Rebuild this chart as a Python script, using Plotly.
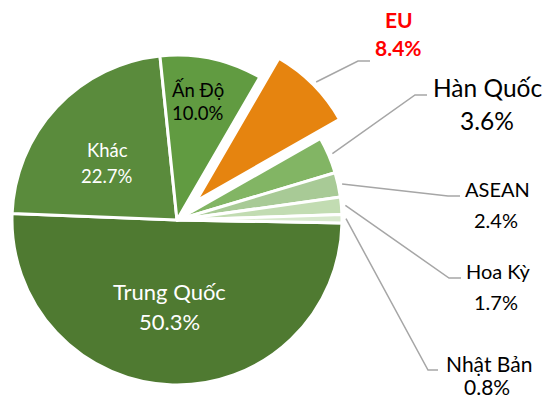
import math
import plotly.graph_objects as go

# Market shares (%)
labels = ["Trung Quốc", "Khác", "Ấn Độ", "EU", "Hàn Quốc", "ASEAN", "Hoa Kỳ", "Nhật Bản"]
shares = [50.3, 22.7, 10.0, 8.4, 3.6, 2.4, 1.7, 0.8]
colors = ["#4F7A31", "#5A8B3C", "#619B41", "#E6840F",
          "#82B564", "#A8CA96", "#C2DCB2", "#D8E9CD"]
highlight = "EU"

# Canvas / pie geometry (pixels)
W, H = 545, 401
CX, CY, R = 177, 220, 165
ROT = 91            # start angle of first slice, clockwise from 12 o'clock
EXPLODE_PX = 27     # offset of the highlighted slice
FONT = "Lato"
LINE_COL = "#A6A6A6"

# Label layout: inside labels (name centre, value centre, colour, size)
inside_pos = {
    "Trung Quốc": ((169, 291), (169, 321), "white", 22),
    "Khác": ((107, 150), (107, 176), "white", 18.5),
    "Ấn Độ": ((198, 89), (198, 113), "black", 18.5),
}
# Outside labels: (name centre, value centre, elbow, line end, size)
outside_pos = {
    "EU": ((399, 19), (398, 47), (358, 61), (370, 61), 21),
    "Hàn Quốc": ((487, 87), (487, 120), (415, 95), (427, 95), 24.5),
    "ASEAN": ((497, 189), (496, 220), (448, 196), (460, 196), 20),
    "Hoa Kỳ": ((498, 271), (496, 302), (449, 278), (461, 278), 20),
    "Nhật Bản": ((489, 363), (487, 386), (428, 370), (438, 370), 21),
}


def px(x, y):
    return x / W, 1 - y / H


def polar(cx, cy, rad, deg):
    a = math.radians(deg)
    return cx + rad * math.sin(a), cy - rad * math.cos(a)


def domain(cx, cy, r):
    return dict(x=[(cx - r) / W, (cx + r) / W],
                y=[1 - (cy + r) / H, 1 - (cy - r) / H])


total = sum(shares)
mids = {}
ang = ROT
for lab, v in zip(labels, shares):
    span = 360 * v / total
    mids[lab] = ang + span / 2
    ang += span

clear = "rgba(0,0,0,0)"
base_colors = [clear if l == highlight else c for l, c in zip(labels, colors)]
base_lines = [clear if l == highlight else "white" for l in labels]
hl_colors = [c if l == highlight else clear for l, c in zip(labels, colors)]
hl_lines = ["white" if l == highlight else clear for l in labels]

hx, hy = polar(CX, CY, EXPLODE_PX, mids[highlight])

fig = go.Figure()
fig.add_trace(go.Pie(
    values=shares, labels=labels, sort=False, direction="clockwise",
    rotation=ROT, textinfo="none", hoverinfo="skip", showlegend=False,
    marker=dict(colors=base_colors, line=dict(color=base_lines, width=3)),
    domain=domain(CX, CY, R),
))
fig.add_trace(go.Pie(
    values=shares, labels=labels, sort=False, direction="clockwise",
    rotation=ROT, textinfo="none", hoverinfo="skip", showlegend=False,
    marker=dict(colors=hl_colors, line=dict(color=hl_lines, width=3)),
    domain=domain(hx, hy, R),
))

annotations = []
shapes = []
value_of = dict(zip(labels, shares))


def add_text(pos, text, color, size, bold=False):
    x, y = px(*pos)
    annotations.append(dict(
        x=x, y=y, xref="paper", yref="paper", showarrow=False,
        xanchor="center", yanchor="middle",
        text=f"<b>{text}</b>" if bold else text,
        font=dict(family=FONT, size=size, color=color)))


for lab, (npos, vpos, col, size) in inside_pos.items():
    add_text(npos, lab, col, size)
    add_text(vpos, f"{value_of[lab]:.1f}%", col, size)

for lab, (npos, vpos, elbow, end, size) in outside_pos.items():
    is_hl = lab == highlight
    col = "#FF0000" if is_hl else "black"
    add_text(npos, lab, col, size, bold=is_hl)
    add_text(vpos, f"{value_of[lab]:.1f}%", col, size, bold=is_hl)
    ox, oy = (hx, hy) if is_hl else (CX, CY)
    sx, sy = polar(ox, oy, R + 4, mids[lab])
    p0, p1, p2 = px(sx, sy), px(*elbow), px(*end)
    shapes.append(dict(
        type="path", xref="paper", yref="paper",
        path=f"M {p0[0]} {p0[1]} L {p1[0]} {p1[1]} L {p2[0]} {p2[1]}",
        line=dict(color=LINE_COL, width=1.5)))

fig.update_layout(
    width=W, height=H,
    margin=dict(l=0, r=0, t=0, b=0),
    paper_bgcolor="white", plot_bgcolor="white",
    annotations=annotations, shapes=shapes,
    font=dict(family=FONT),
)

fig.write_html("out.html")
